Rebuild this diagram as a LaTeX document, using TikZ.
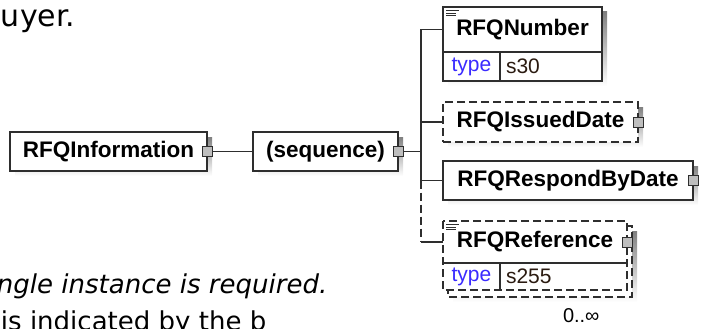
\documentclass[tikz,border=0pt]{standalone}
\usepackage{fontspec}
\setmainfont{Liberation Sans}
\newfontfamily\pagefont{DejaVu Sans}
\usetikzlibrary{positioning,calc,backgrounds}
\definecolor{edge}{HTML}{2E2E2E}
\definecolor{shade}{HTML}{C6C6C6}
\definecolor{plusgray}{HTML}{BEBEBE}
\definecolor{typeblue}{HTML}{3B2BFF}
\definecolor{valtext}{HTML}{2A1A10}

% small list mark in the corner of an element box
\newcommand{\listmark}[1]{\draw[line width=0.7pt] ($(#1.north west)+(3,3.5)$) -- ++(13,0) ($(#1.north west)+(3,6)$) -- ++(10,0) ($(#1.north west)+(3,8.5)$) -- ++(10,0);}

\begin{document}
\begin{tikzpicture}[x=1pt, y=-1pt, line width=1.3pt, color=edge,
    every node/.style={inner sep=0pt, outer sep=0pt},
    elem/.style={draw=edge, fill=white, text=black, anchor=north west, minimum height=39pt, font=\fontsize{22.5}{24}\selectfont\bfseries},
    opt/.style={dash pattern=on 8pt off 4pt},
    plus/.style={draw=edge, fill=plusgray, line width=1pt, minimum size=10pt},
    attr/.style={anchor=north west, text=typeblue, font=\fontsize{21}{23}\selectfont},
    val/.style={anchor=north west, text=valtext, inner xsep=6pt, align=left, font=\fontsize{21}{23}\selectfont}]
  \useasboundingbox (0,0) rectangle (701,329);

  % text of the page round the diagram
  \node[anchor=base west, text=black, font=\pagefont\fontsize{30}{33}\selectfont] (tail) at (1,27) {uyer.};
  \node[anchor=base west, text=black, font=\pagefont\itshape\fontsize{26}{30}\selectfont] (req) at (-3,293) {ngle instance is required.};
  \node[anchor=base west, text=black, font=\pagefont\fontsize{26}{30}\selectfont] (more) at (1,330) {is indicated by the b};

  \node[elem, minimum width=197pt] (info) at (10,132) {RFQInformation};
  \node[elem, minimum width=145pt] (seq) at (253,132) {(sequence)};

  \node[elem, minimum width=159pt, minimum height=45pt] (num) at (443,7) {RFQNumber};
  \node[attr, draw=edge, fill=white, minimum width=57pt, minimum height=29pt] (numT) at (443,52) {type};
  \node[val, draw=edge, fill=white, text width=90pt, minimum height=29pt] (numV) at (500,52) {s30};
  \listmark{num}

  \node[elem, opt, minimum width=195pt, minimum height=40pt] (issued) at (443,102) {RFQIssuedDate};
  \node[elem, minimum width=250pt] (respond) at (443,161) {RFQRespondByDate};

  \draw[opt, fill=white] (448,226) rectangle (632,297);
  \draw[opt, fill=white] (443,221) rectangle (627,290);
  \node[elem, draw=none, fill=none, minimum width=184pt, minimum height=42pt] (ref) at (443,221) {RFQReference};
  \node[attr, minimum width=57pt, minimum height=27pt] (refT) at (443,263) {type};
  \node[val, text width=115pt, minimum height=27pt] (refV) at (500,263) {s255};
  \draw (refT.north west) -- (refV.north east);
  \draw (refT.north east) -- (refT.south east);
  \listmark{ref}
  \node[anchor=base west, text=black, font=\fontsize{20}{22}\selectfont] (occurs) at (563,322) {0..∞};

  \foreach \n in {info, seq, issued, respond, ref}
    \node[plus] (\n P) at (\n.east) {};

  \begin{scope}[on background layer]
    \foreach \n in {info, seq, issued, respond}
      \fill[shade] ($(\n.north west)+(5,5)$) rectangle ($(\n.south east)+(5,5)$);
    \fill[shade] ($(num.north west)+(5,5)$) rectangle ($(numV.south east)+(5,5)$);
    \fill[shade] (453,231) rectangle (637,302);
  \end{scope}

  \draw (infoP.east) -- (seq.west);
  \coordinate (bus) at ($(seqP.east)+(18,0)$);
  \draw (seqP.east) -- (bus);
  \draw (num.west) -| (bus);
  \draw (issued.west) -| (bus);
  \draw (respond.west) -| (bus);
  \draw[opt] (bus |- respond.west) -- (bus |- ref.west);
  \draw (bus |- ref.west) -- (ref.west);
\end{tikzpicture}
\end{document}
